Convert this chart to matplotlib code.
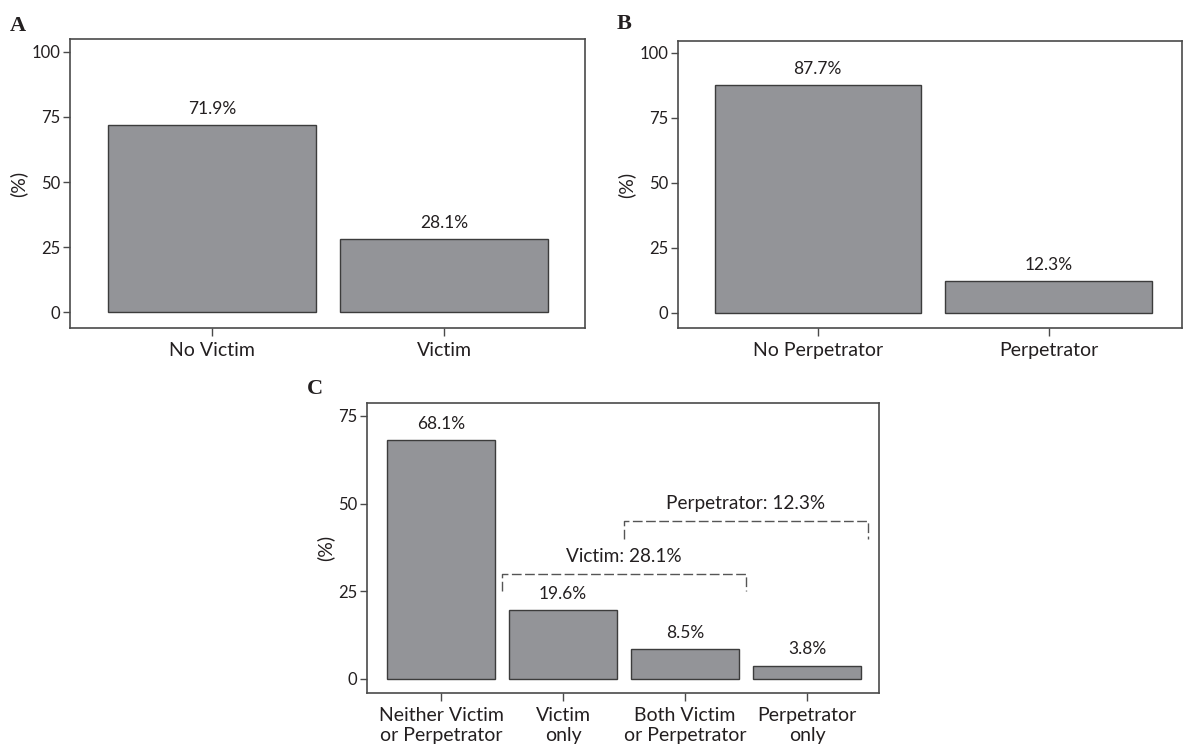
import matplotlib
matplotlib.use("Agg")
import matplotlib.pyplot as plt

plt.rcParams['font.family'] = ['Lato', 'DejaVu Sans']

# Data
cats_a = ["No Victim", "Victim"]
vals_a = [71.9, 28.1]
cats_b = ["No Perpetrator", "Perpetrator"]
vals_b = [87.7, 12.3]
cats_c = ["Neither Victim\nor Perpetrator", "Victim\nonly", "Both Victim\nor Perpetrator", "Perpetrator\nonly"]
vals_c = [68.1, 19.6, 8.5, 3.8]
ticks_ab = [0, 25, 50, 75, 100]
ticks_c = [0, 25, 50, 75]
victim_label = "Victim: 28.1%"
perp_label = "Perpetrator: 12.3%"

BAR = "#939498"
EDGE = "#3c3c3c"
SPINE = "#4a4a4a"
TXT = "#231f20"

fig = plt.figure(figsize=(11.84, 7.52), dpi=100)

def style(ax, yticks):
    for s in ax.spines.values():
        s.set_color(SPINE)
        s.set_linewidth(1.2)
    ax.set_yticks(yticks)
    ax.tick_params(axis='y', length=5, width=1.0, color=SPINE, labelsize=12, labelcolor=TXT, pad=2)
    ax.tick_params(axis='x', length=6, width=1.0, color=SPINE, labelsize=14, labelcolor=TXT, pad=4)
    for lab in ax.get_xticklabels():
        lab.set_linespacing(1.25)
    ax.set_ylabel("(%)", fontsize=14, color=TXT, labelpad=3)

def bars(ax, cats, vals, width):
    x = list(range(len(cats)))
    ax.bar(x, vals, width=width, color=BAR, edgecolor=EDGE, linewidth=1.0)
    ax.set_xticks(x)
    ax.set_xticklabels(cats)
    for xi, v in zip(x, vals):
        ax.annotate(f"{v}%", (xi, v), xytext=(0, 6), textcoords="offset points",
                    ha="center", va="bottom", fontsize=12.5, color=TXT)

# Panel A
axA = fig.add_axes([0.0591, 0.5638, 0.4347, 0.3843])
bars(axA, cats_a, vals_a, 0.895)
axA.set_xlim(-0.61, 1.603)
axA.set_ylim(-6.0, 104.9)
style(axA, ticks_ab)

# Panel B
axB = fig.add_axes([0.5726, 0.5638, 0.4260, 0.3817])
bars(axB, cats_b, vals_b, 0.895)
axB.set_xlim(-0.606, 1.58)
axB.set_ylim(-5.8, 104.6)
style(axB, ticks_ab)

# Panel C
axC = fig.add_axes([0.3100, 0.0789, 0.4324, 0.3852])
bars(axC, cats_c, vals_c, 0.89)
axC.set_xlim(-0.607, 3.59)
axC.set_ylim(-3.9, 78.7)
style(axC, ticks_c)

# Brackets
dash = dict(color="#555555", linewidth=1.0, linestyle=(0, (7, 2.5)))
axC.plot([0.5, 0.5, 2.5, 2.5], [25, 30, 30, 25], **dash)
axC.plot([1.5, 1.5, 3.5, 3.5], [40, 45, 45, 40], **dash)
axC.text(1.5, 34.9, victim_label, ha="center", va="center", fontsize=13.7, color=TXT)
axC.text(2.5, 49.9, perp_label, ha="center", va="center", fontsize=13.7, color=TXT)

# Panel letters
for lbl, x, y in [("A", 0.008, 0.966), ("B", 0.521, 0.968), ("C", 0.259, 0.483)]:
    fig.text(x, y, lbl, fontsize=16, fontweight="bold", family="Liberation Serif", color=TXT, va="center")

fig.savefig("out.png", dpi=100)
